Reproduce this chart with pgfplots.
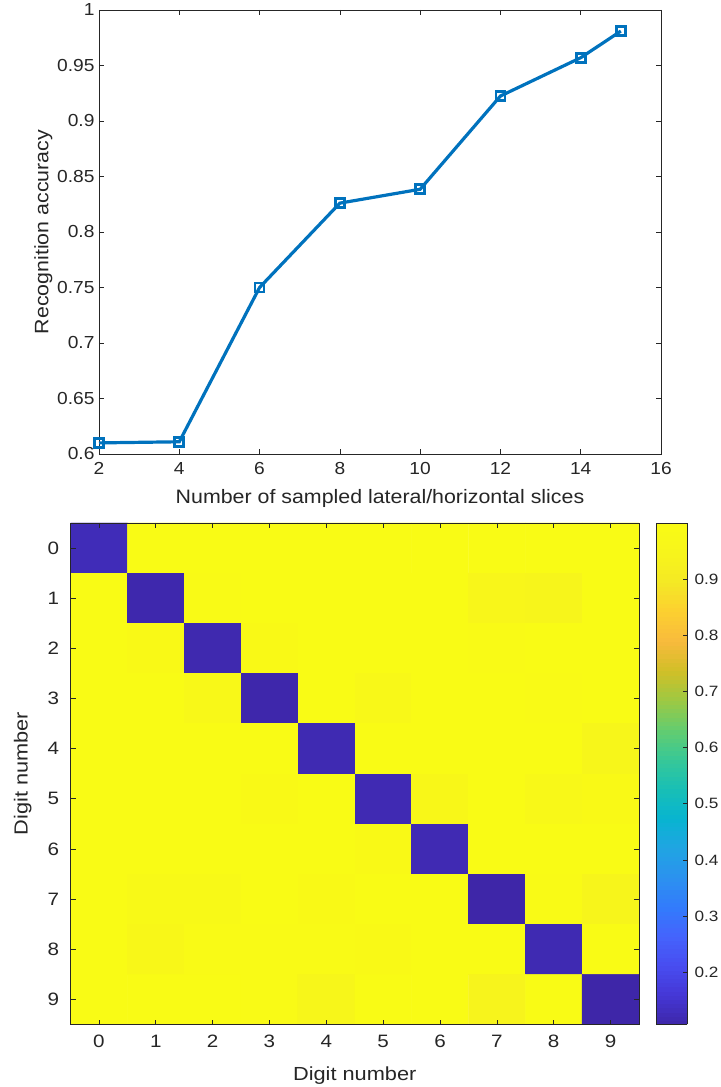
\documentclass[border=0pt]{standalone}
\usepackage{pgfplots}
\pgfplotsset{compat=1.18}
\usepackage{fontspec}
\setmainfont{Liberation Sans}
\newfontfamily\topfont[FakeStretch=1.1]{Liberation Sans}
\newfontfamily\botfont[FakeStretch=1.15]{Liberation Sans}
\definecolor{mlblue}{rgb}{0,0.447,0.741}
\definecolor{axgray}{rgb}{0.15,0.15,0.15}
\pgfplotsset{
  colormap={parula}{
    rgb=(0.2422,0.1504,0.6603)
    rgb=(0.2706,0.2147,0.8364)
    rgb=(0.2813,0.3006,0.9414)
    rgb=(0.2699,0.3892,0.9906)
    rgb=(0.1963,0.4847,0.9892)
    rgb=(0.1687,0.5703,0.9359)
    rgb=(0.1248,0.6459,0.8883)
    rgb=(0.0297,0.7082,0.8163)
    rgb=(0.0964,0.7500,0.7120)
    rgb=(0.2161,0.7843,0.5923)
    rgb=(0.3909,0.8029,0.4354)
    rgb=(0.6174,0.7876,0.2612)
    rgb=(0.8203,0.7498,0.1535)
    rgb=(0.9728,0.7298,0.2394)
    rgb=(0.9892,0.8136,0.1885)
    rgb=(0.9597,0.9135,0.1423)
    rgb=(0.9691,0.9606,0.1064)
    rgb=(0.9769,0.9839,0.0805)
  }
}
\pgfplotstableread{
x y c
0 0 0.125
1 0 1
2 0 1
3 0 1
4 0 1
5 0 1
6 0 1
7 0 1
8 0 1
9 0 1
0 1 1
1 1 0.112
2 1 0.99
3 1 1
4 1 1
5 1 1
6 1 1
7 1 0.96
8 1 0.95
9 1 1
0 2 1
1 2 0.985
2 2 0.115
3 2 0.985
4 2 1
5 2 1
6 2 1
7 2 0.99
8 2 1
9 2 1
0 3 1
1 3 1
2 3 0.975
3 3 0.11
4 3 1
5 3 0.975
6 3 1
7 3 1
8 3 0.99
9 3 1
0 4 1
1 4 1
2 4 1
3 4 1
4 4 0.118
5 4 1
6 4 1
7 4 1
8 4 1
9 4 0.955
0 5 1
1 5 1
2 5 1
3 5 0.985
4 5 1
5 5 0.12
6 5 0.97
7 5 1
8 5 0.975
9 5 0.985
0 6 1
1 6 1
2 6 1
3 6 1
4 6 1
5 6 0.985
6 6 0.12
7 6 1
8 6 1
9 6 1
0 7 1
1 7 0.98
2 7 0.98
3 7 1
4 7 0.985
5 7 1
6 7 1
7 7 0.107
8 7 0.99
9 7 0.95
0 8 1
1 8 0.97
2 8 0.99
3 8 0.99
4 8 0.99
5 8 0.985
6 8 1
7 8 1
8 8 0.118
9 8 1
0 9 1
1 9 1
2 9 1
3 9 0.99
4 9 0.955
5 9 1
6 9 1
7 9 0.945
8 9 1
9 9 0.107
}\heat
\begin{document}
\begin{tikzpicture}
\useasboundingbox (0,0) rectangle (721bp,1087bp);
% top line plot
\begin{axis}[
  at={(99bp,633bp)}, anchor=south west,
  scale only axis, width=562bp, height=444bp,
  xmin=2, xmax=16, ymin=0.6, ymax=1,
  xtick={2,4,...,16},
  ytick={0.6,0.65,0.7,0.75,0.8,0.85,0.9,0.95,1},
  yticklabels={0.6,0.65,0.7,0.75,0.8,0.85,0.9,0.95,1},
  tick align=inside, major tick length=5bp,
  axis line style={axgray, line width=0.7bp},
  tick style={axgray, line width=0.7bp},
  ticklabel style={font=\topfont\fontsize{17.5}{19}\selectfont, text=axgray},
  /pgf/number format/assume math mode=true,
  xticklabel style={yshift=-5bp},
  yticklabel style={xshift=-1bp},
  xlabel={Number of sampled lateral/horizontal slices},
  ylabel={Recognition accuracy},
  label style={font=\topfont\fontsize{19.5}{22}\selectfont, text=axgray},
  xlabel style={yshift=-8bp},
  ylabel style={yshift=-2bp},
]
\addplot[mlblue, line width=3.2bp, mark=square, mark size=4.5bp, mark options={solid, line width=2.8bp}]
coordinates {(2,0.610) (4,0.611) (6,0.750) (8,0.826) (10,0.8385) (12,0.9225) (14,0.957) (15,0.981)};
\end{axis}
% bottom heatmap
\begin{axis}[
  at={(70.5bp,62.5bp)}, anchor=south west,
  scale only axis, width=568.5bp, height=501.5bp,
  xmin=-0.5, xmax=9.5, ymin=-0.5, ymax=9.5,
  y dir=reverse,
  xtick={0,...,9}, ytick={0,...,9},
  tick align=inside, major tick length=5bp,
  axis on top,
  axis line style={axgray, line width=0.7bp},
  tick style={axgray, line width=0.7bp},
  ticklabel style={font=\botfont\fontsize{18}{20}\selectfont, text=axgray},
  /pgf/number format/assume math mode=true,
  xticklabel style={yshift=-7bp},
  yticklabel style={xshift=-8bp},
  xlabel={Digit number}, ylabel={Digit number},
  label style={font=\botfont\fontsize{19}{21}\selectfont, text=axgray},
  xlabel style={yshift=-12bp},
  ylabel style={yshift=9bp},
  colormap name=parula,
  point meta min=0.107, point meta max=1,
  colorbar sampled,
  colorbar shift/.style={},
  colorbar style={
    at={(parent axis.north east)}, anchor=north west,
    xshift=17bp,
    scale only axis,
    width=31bp,
    samples=120,
    ytick={0.2,0.3,...,0.9},
    yticklabels={0.2,0.3,0.4,0.5,0.6,0.7,0.8,0.9},
    ytick pos=right, yticklabel pos=right,
    tick align=inside, major tick length=4bp,
    axis line style={axgray, line width=0.7bp},
    tick style={axgray, line width=0.7bp},
    yticklabel style={font=\botfont\fontsize{15}{17}\selectfont, text=axgray, xshift=4bp},
    /pgf/number format/assume math mode=true,
  },
]
\addplot[matrix plot*, mesh/cols=10, point meta=explicit] table[x=x, y=y, meta=c] {\heat};
\end{axis}
\end{tikzpicture}
\end{document}
